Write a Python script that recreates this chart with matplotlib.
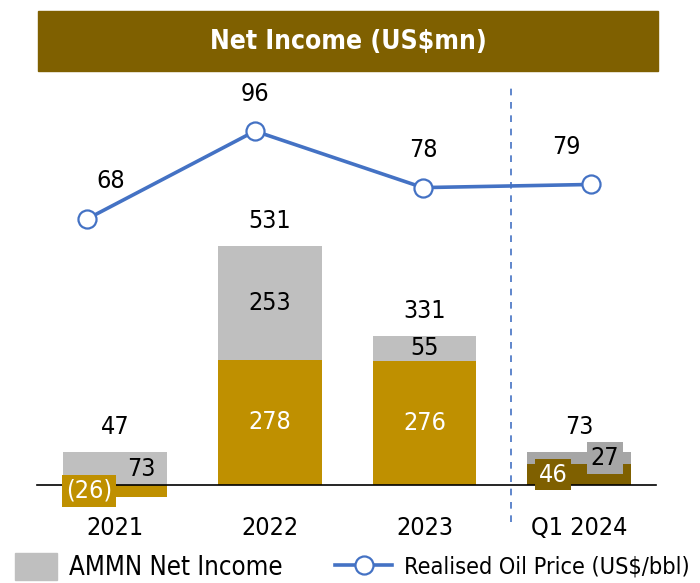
import numpy as np
from matplotlib import pyplot as plt
from matplotlib import font_manager as fm
from matplotlib.patches import Rectangle
from matplotlib.lines import Line2D

# %%
# data
categories = ["2021", "2022", "2023", "Q1 2024"]
amman_own = [-26, 278, 276, 46]      # gold / brown part
ammn_net = [73, 253, 55, 27]         # grey part
totals = [47, 531, 331, 73]
oil_price = [68, 96, 78, 79]

# %%
# look for a narrow font, else Roboto a bit smaller
narrow = []
for f in fm.fontManager.ttflist:
    st = str(f.stretch).lower()
    if ('narrow' in f.name.lower() or 'condensed' in f.name.lower()
            or 'condensed' in st) and f.style == 'normal':
        narrow.append(f)
if narrow:
    fam = narrow[0].name
    plt.rcParams['font.family'] = [fam, 'DejaVu Sans']
    plt.rcParams['font.stretch'] = str(narrow[0].stretch)
    k = 1.0
else:
    plt.rcParams['font.family'] = ['Roboto', 'DejaVu Sans']
    k = 0.87

GOLD = '#BF9000'
BROWN = '#7F6000'
GREY = '#BFBFBF'
GREY2 = '#A6A6A6'
BLUE = '#4472C4'
W, H = 700, 583

low_cols = [GOLD, GOLD, GOLD, BROWN]
up_cols = [GREY, GREY, GREY, GREY2]
low_shift = [-26, 0, 0, -26]   # pixels, label shift for small bars
up_shift = [26, 0, 0, 26]
oil_shift = [24, 0, 0, -25]
FS = 18 * k

fig = plt.figure(figsize=(W / 100, H / 100), dpi=100)

# bar axis, pixel mapping: x = 115 + 154.7*i, y0 = 485, 0.45 px per unit
ax = fig.add_axes([0, 0, 1, 1])
ax.set_xlim(-115 / 154.7, (W - 115) / 154.7)
ax.set_ylim(-(H - 485) / 0.45, 485 / 0.45)
ax.axis('off')

x = np.arange(len(categories))
low = np.array(amman_own)
up = np.array(ammn_net)
up_bottom = np.maximum(low, 0)
ax.bar(x, low, width=0.67, color=low_cols, zorder=2)
ax.bar(x, up, bottom=up_bottom, width=0.67, color=up_cols, zorder=2)
ax.axhline(0, xmin=37 / W, xmax=656 / W, color='black', lw=1.2, zorder=3)

for i in range(len(x)):
    # lower label
    lbl = "(%d)" % abs(low[i]) if low[i] < 0 else str(low[i])
    box = None
    if low_shift[i] != 0:
        box = dict(boxstyle='square,pad=0.15', fc=low_cols[i], ec='none')
    ax.annotate(lbl, (x[i], low[i] / 2), xytext=(low_shift[i] * 0.72, 0),
                textcoords='offset points', ha='center', va='center',
                fontsize=FS, color='white', bbox=box, zorder=5)
    # upper label
    box = None
    if up_shift[i] != 0:
        box = dict(boxstyle='square,pad=0.15', fc=up_cols[i], ec='none')
    ax.annotate(str(up[i]), (x[i], up_bottom[i] + up[i] / 2),
                xytext=(up_shift[i] * 0.72, 0), textcoords='offset points',
                ha='center', va='center', fontsize=FS, color='black',
                bbox=box, zorder=5)
    # total
    ax.annotate(str(totals[i]), (x[i], up_bottom[i] + up[i]), xytext=(0, 18),
                textcoords='offset points', ha='center', va='center',
                fontsize=FS, color='black')
    # category
    ax.text(x[i], -95, categories[i], ha='center', va='center', fontsize=FS)

# dashed separator
ax.axvline((511 - 115) / 154.7, ymin=1 - 522 / H, ymax=1 - 88 / H,
           color=BLUE, lw=1.2, ls=(0, (4, 4)))

# line axis, pixel mapping: x = 87 + 168*j, y = 219 - (v-68)*3.14
ax2 = fig.add_axes([0, 0, 1, 1], label='oil')
ax2.patch.set_alpha(0)
ax2.set_xlim(-87 / 168, (W - 87) / 168)
ax2.set_ylim(68 - (H - 219) / 3.14, 68 + 219 / 3.14)
ax2.axis('off')
ax2.plot(x, oil_price, color=BLUE, lw=2.6, marker='o', ms=13,
         mfc='white', mec=BLUE, mew=1.6, zorder=4)
for i in range(len(x)):
    ax2.annotate(str(oil_price[i]), (x[i], oil_price[i]),
                 xytext=(oil_shift[i] * 0.72, 27), textcoords='offset points',
                 ha='center', va='center', fontsize=FS)

# title banner
fig.patches.append(Rectangle((38 / W, 1 - 71 / H), 620 / W, 60 / H,
                             transform=fig.transFigure, color=BROWN))
fig.text(348 / W, 1 - 42 / H, "Net Income (US$mn)", ha='center', va='center',
         color='white', fontsize=19 * k, fontweight='bold')

# legend
h1 = Rectangle((0, 0), 1, 1, color=GREY)
fig.legend([h1], ["AMMN Net Income"], loc='center left',
           bbox_to_anchor=(15 / W, 1 - 567 / H), frameon=False,
           fontsize=18.5 * k, handlelength=1.65, handleheight=1.25,
           handletextpad=0.45, borderpad=0, borderaxespad=0)
h2 = Line2D([], [], color=BLUE, lw=2.6, marker='o', ms=13, mfc='white',
            mec=BLUE, mew=1.6)
fig.legend([h2], ["Realised Oil Price (US$/bbl)"], loc='center left',
           bbox_to_anchor=(335 / W, 1 - 567 / H), frameon=False,
           fontsize=16.8 * k, handlelength=2.45, handletextpad=0.5,
           borderpad=0, borderaxespad=0)

plt.savefig("out.png", dpi=100)
